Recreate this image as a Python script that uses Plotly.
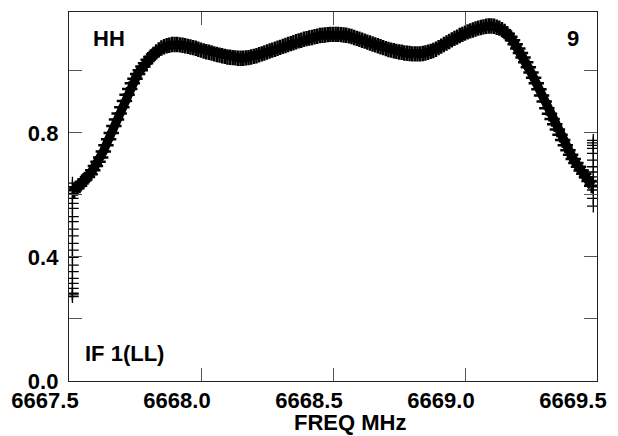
import numpy as np
import plotly.graph_objects as go

# Channel grid (MHz)
freq_start = 6667.52
freq_step = 0.01

# Bandpass amplitude per channel
amp = [
    0.615, 0.622, 0.630, 0.642, 0.650, 0.658, 0.667, 0.680, 0.693, 0.707,
    0.721, 0.740, 0.760, 0.780, 0.800, 0.822, 0.843, 0.863, 0.883, 0.903,
    0.923, 0.942, 0.960, 0.975, 0.990, 1.002, 1.014, 1.025, 1.036, 1.045,
    1.053, 1.061, 1.068, 1.074, 1.078, 1.081, 1.083, 1.085, 1.085, 1.085,
    1.084, 1.083, 1.081, 1.079, 1.077, 1.075, 1.073, 1.070, 1.067, 1.064,
    1.062, 1.060, 1.058, 1.055, 1.053, 1.051, 1.049, 1.047, 1.045, 1.044,
    1.043, 1.042, 1.041, 1.041, 1.041, 1.042, 1.043, 1.045, 1.047, 1.049,
    1.052, 1.055, 1.058, 1.061, 1.064, 1.067, 1.070, 1.073, 1.076, 1.079,
    1.082, 1.085, 1.088, 1.091, 1.094, 1.097, 1.099, 1.102, 1.104, 1.106,
    1.108, 1.110, 1.112, 1.114, 1.115, 1.116, 1.117, 1.118, 1.118, 1.118,
    1.118, 1.117, 1.116, 1.115, 1.113, 1.111, 1.108, 1.105, 1.102, 1.099,
    1.096, 1.093, 1.090, 1.087, 1.084, 1.081, 1.078, 1.075, 1.072, 1.069,
    1.067, 1.065, 1.063, 1.061, 1.060, 1.058, 1.057, 1.056, 1.055, 1.055,
    1.055, 1.055, 1.056, 1.058, 1.060, 1.063, 1.066, 1.070, 1.075, 1.080,
    1.085, 1.090, 1.095, 1.100, 1.105, 1.109, 1.114, 1.118, 1.122, 1.126,
    1.129, 1.132, 1.135, 1.138, 1.140, 1.142, 1.144, 1.145, 1.145, 1.144,
    1.141, 1.138, 1.133, 1.127, 1.120, 1.110, 1.099, 1.086, 1.072, 1.058,
    1.043, 1.028, 1.012, 0.995, 0.978, 0.960, 0.941, 0.921, 0.901, 0.880,
    0.862, 0.845, 0.828, 0.811, 0.794, 0.777, 0.760, 0.744, 0.730, 0.716,
    0.703, 0.691, 0.679, 0.668, 0.657, 0.645, 0.630,
]
freq = freq_start + freq_step * np.arange(len(amp))

# Scattered values at the band edges
edge_left_freq = 6667.513
edge_left_amp = [0.638, 0.627, 0.605, 0.589, 0.573, 0.557, 0.530, 0.514, 0.490, 0.468,
                 0.444, 0.422, 0.399, 0.374, 0.353, 0.331, 0.315, 0.299, 0.283, 0.272, 0.278]
edge_right_freq = 6669.486
edge_right_amp = [0.776, 0.768, 0.760, 0.750, 0.734, 0.712, 0.691, 0.674, 0.658, 0.642,
                  0.626, 0.616, 0.589, 0.564]

y_tickvals = [0.0, 0.2, 0.4, 0.6, 0.8, 1.0]
y_ticktext = ["0.0", "", "0.4", "", "0.8", ""]
x_tickvals = [6667.5, 6668.0, 6668.5, 6669.0, 6669.5]
x_ticktext = ["6667.5", "6668.0", "6668.5", "6669.0", "6669.5"]

FONT = "Liberation Sans, Arial, sans-serif"

marker_main = dict(symbol="cross-thin", size=11, color="black",
                   line=dict(color="black", width=2.5))
marker_edge = dict(symbol="cross-thin", size=9, color="black",
                   line=dict(color="black", width=1.3))

fig = go.Figure()
fig.add_trace(go.Scatter(x=freq, y=amp, mode="lines+markers", marker=marker_main,
                         line=dict(color="black", width=9),
                         showlegend=False, hoverinfo="skip"))
fig.add_trace(go.Scatter(x=[edge_left_freq] * len(edge_left_amp), y=edge_left_amp,
                         mode="markers", marker=marker_edge, showlegend=False, hoverinfo="skip"))
fig.add_trace(go.Scatter(x=[edge_right_freq] * len(edge_right_amp), y=edge_right_amp,
                         mode="markers", marker=marker_edge, showlegend=False, hoverinfo="skip"))

axis_common = dict(showgrid=False, zeroline=False, ticks="inside", ticklen=13,
                   tickwidth=1, tickcolor="#555555", showline=True, linecolor="#222222",
                   linewidth=1.2, mirror="ticks",
                   tickfont=dict(family=FONT, size=22, color="black", weight="bold"))

fig.update_xaxes(range=[6667.5, 6669.5], tickvals=x_tickvals, ticktext=x_ticktext,
                 ticklabelshift=-24, ticklabelstandoff=-1, **axis_common)
fig.update_yaxes(range=[0, 1.19], tickvals=y_tickvals, ticktext=y_ticktext,
                 ticklabelstandoff=5, **axis_common)

ann_font = dict(family=FONT, size=22, color="black", weight="bold")
fig.add_annotation(text="FREQ MHz", xref="paper", yref="paper", x=0.533, y=-0.075,
                   xanchor="center", yanchor="top", showarrow=False, font=ann_font, borderpad=0)
fig.add_annotation(text="HH", xref="paper", yref="paper", x=0.044, y=0.928,
                   xanchor="left", yanchor="middle", showarrow=False, font=ann_font, borderpad=0)
fig.add_annotation(text="9", xref="paper", yref="paper", x=0.968, y=0.928,
                   xanchor="right", yanchor="middle", showarrow=False, font=ann_font, borderpad=0)
fig.add_annotation(text="IF 1(LL)", xref="paper", yref="paper", x=0.028, y=0.074,
                   xanchor="left", yanchor="middle", showarrow=False, font=ann_font, borderpad=0)

fig.update_layout(width=618, height=436, margin=dict(l=68, r=17, t=11, b=55),
                  paper_bgcolor="white", plot_bgcolor="white")

fig.write_html("out.html", config={"displayModeBar": False, "staticPlot": True},
               post_script="document.body.style.margin='0px';document.body.style.overflow='hidden';")
